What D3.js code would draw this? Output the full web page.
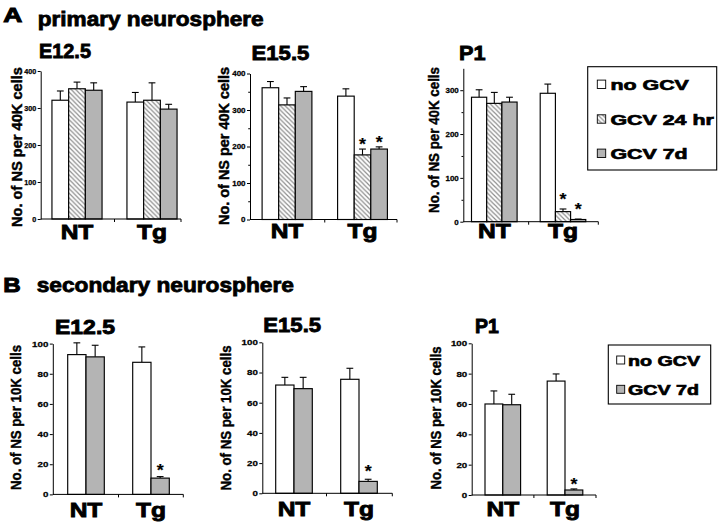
<!DOCTYPE html>
<html><head><meta charset="utf-8">
<script src="https://cdn.jsdelivr.net/npm/d3@7"></script>
<style>
body{margin:0;background:#fff}
svg{display:block}
text{font-family:"Liberation Sans",Arial,Helvetica,sans-serif;font-weight:bold;fill:#000}
</style>
</head><body>
<svg id="c" width="720" height="525"></svg>
<script>
// ---------------- data ----------------
const groups = ["NT", "Tg"];
const seriesA = ["no GCV", "GCV 24 hr", "GCV 7d"];
const seriesB = ["no GCV", "GCV 7d"];
const stages = ["E12.5", "E15.5", "P1"];
const sectionLetters = ["A", "B"];
const sectionTitles = ["primary neurosphere", "secondary neurosphere"];
const yTitleA = "No. of NS per 40K cells";
const yTitleB = "No. of NS per 10K cells";
const ticksA = [[0, 100, 200, 300, 400], [0, 100, 200, 300, 400], [0, 100, 200, 300]];
const minorA = [[], [50, 150, 250, 350], [50, 150, 250]];
const ticksB = [0, 20, 40, 60, 80, 100];

// primary neurospheres: [group][series] means and SEM
const primE125 = [[321, 352, 348], [316, 321, 297]];
const primE125Err = [[25, 18, 20], [26, 47, 13]];
const primE155 = [[361, 314, 351], [338, 177, 193]];
const primE155Err = [[17, 19, 13], [20, 16, 6]];
const primP1 = [[284, 270, 273], [293, 23, 5]];
const primP1Err = [[17, 25, 11], [21, 6, 1]];
// secondary neurospheres
const secE125 = [[92.7, 91.2], [87.6, 10.8]];
const secE125Err = [[7.8, 7.7], [10.2, 1.0]];
const secE155 = [[71.7, 69.3], [75.5, 7.9]];
const secE155Err = [[5.1, 7.5], [7.3, 1.4]];
const secP1 = [[60.0, 59.5], [75.1, 3.3]];
const secP1Err = [[8.6, 6.9], [4.7, 0.7]];
// significance markers: [group, series index]
const sigA = [[], [["Tg", 1], ["Tg", 2]], [["Tg", 1], ["Tg", 2]]];
const sigB = [[["Tg", 1]], [["Tg", 1]], [["Tg", 1]]];

// ---------------- layout ----------------
const layA = [
  {x0: 40.7, xEnd: 181, c: [77, 152], bw: 16.7, y0: 219, yTop: 71, max: 400, star: 10,
   title: [39, 58, 20.5, 0.97], ylab: [21.5, 147, 160], tick: [7.2, 1.0, 3], xl: [238.5, 21, 1.17]},
  {x0: 250, xEnd: 397, c: [287, 362.5], bw: 16.6, y0: 219.5, yTop: 73.5, max: 400, star: 8.5,
   title: [251.5, 60, 20.5, 1.08], ylab: [229, 146, 158], tick: [7.6, 1.05, 3], xl: [237.5, 21, 1.17]},
  {x0: 463.3, xEnd: 598.3, c: [494.3, 563], bw: 15.2, y0: 221.7, yTop: 68.3, max: 350, star: 13,
   title: [459, 60, 20.5, 1.06], ylab: [438.5, 140, 146], tick: [7.6, 1.05, 3], xl: [237.5, 20.5, 1.2]}
];
const layB = [
  {x0: 52.8, xEnd: 183.3, c: [86, 151], bw: 18.3, y0: 494.4, yTop: 343.6, max: 100, star: 10,
   title: [55, 334, 19.5, 1.18], ylab: [20.5, 417.5, 145], tick: [7.8, 1.25, 3], xl: [516.5, 21, 1.17]},
  {x0: 262.3, xEnd: 392.3, c: [294, 359], bw: 18.3, y0: 493.3, yTop: 342.3, max: 100, star: 11,
   title: [263.3, 331.7, 20.5, 1.08], ylab: [231, 418, 145], tick: [7.8, 1.25, 3], xl: [515.5, 21, 1.17]},
  {x0: 471.7, xEnd: 596, c: [502.8, 565], bw: 17.8, y0: 495, yTop: 343.3, max: 100, star: 8.5,
   title: [475, 333.3, 19.5, 1.0], ylab: [441, 418, 143], tick: [7.8, 1.25, 3], xl: [516, 21, 1.17]}
];
const GRAY = "#b4b4b4";
const fillsA = ["#ffffff", "url(#hatch)", GRAY];
const fillsB = ["#ffffff", GRAY];

const svg = d3.select("#c");
const defs = svg.append("defs");
const pat = defs.append("pattern").attr("id", "hatch").attr("patternUnits", "userSpaceOnUse")
  .attr("width", 4.6).attr("height", 4.6);
pat.append("rect").attr("width", 4.6).attr("height", 4.6).attr("fill", "#fff");
pat.append("path").attr("d", "M-1,-1L5.6,5.6M-1,3.6L1,5.6M3.6,-1L5.6,1")
  .attr("stroke", "#8c8c8c").attr("stroke-width", 1.15);

function txt(g, x, y, s, size, stretch, anchor, heavy) {
  return g.append("text")
    .attr("transform", `translate(${x},${y}) scale(${stretch},1)`)
    .attr("text-anchor", anchor || "start")
    .attr("font-size", size)
    .attr("stroke", "#000")
    .attr("stroke-width", heavy === undefined ? 0.55 : heavy)
    .text(s);
}

function panel(cfg, means, errs, series, fills, ticks, minor, yTitle, stage, sig) {
  const g = svg.append("g");
  const y = d3.scaleLinear().domain([0, cfg.max]).range([cfg.y0, cfg.yTop]);
  const x = d3.scalePoint().domain(groups).range(cfg.c);
  const n = series.length;
  const cxOf = (gr, si) => x(gr) + (si - (n - 1) / 2) * cfg.bw;

  const recs = [];
  groups.forEach((gr, gi) => series.forEach((s, si) => {
    recs.push({gr, si, v: means[gi][si], e: errs[gi][si], cx: cxOf(gr, si)});
  }));

  // error bars
  g.selectAll(".eb").data(recs).join("line")
    .attr("x1", d => d.cx).attr("x2", d => d.cx)
    .attr("y1", d => y(d.v)).attr("y2", d => y(d.v + d.e))
    .attr("stroke", "#000").attr("stroke-width", 1.1);
  g.selectAll(".cap").data(recs).join("line")
    .attr("x1", d => d.cx - 3.4).attr("x2", d => d.cx + 3.4)
    .attr("y1", d => y(d.v + d.e)).attr("y2", d => y(d.v + d.e))
    .attr("stroke", "#000").attr("stroke-width", 1.1);
  // bars
  g.selectAll(".bar").data(recs).join("rect")
    .attr("x", d => d.cx - cfg.bw / 2).attr("y", d => y(d.v))
    .attr("width", cfg.bw).attr("height", d => y(0) - y(d.v))
    .attr("fill", d => fills[d.si]).attr("stroke", "#000").attr("stroke-width", 1.15);

  // y axis
  const ya = g.append("g").attr("transform", `translate(${cfg.x0},0)`)
    .call(d3.axisLeft(y).tickValues(ticks).tickSize(cfg.tick[2]).tickSizeOuter(0));
  ya.attr("font-family", null).attr("font-size", null);
  ya.select(".domain").attr("stroke", "#000").attr("stroke-width", 1);
  ya.selectAll(".tick line").attr("stroke", "#000");
  ya.selectAll(".tick text")
    .attr("font-size", cfg.tick[0])
    .attr("stroke", "#000").attr("stroke-width", 0.25)
    .attr("x", -(cfg.tick[2] + 1.5) / cfg.tick[1])
    .attr("transform", `scale(${cfg.tick[1]},1)`);
  if (minor.length) {
    const ym = g.append("g").attr("transform", `translate(${cfg.x0},0)`)
      .call(d3.axisLeft(y).tickValues(minor).tickSize(1.8).tickSizeOuter(0).tickFormat(""));
    ym.select(".domain").remove();
    ym.selectAll(".tick line").attr("stroke", "#000");
  }
  // x axis
  const mid = (x(groups[0]) + x(groups[1])) / 2;
  g.append("line").attr("x1", cfg.x0).attr("x2", cfg.xEnd).attr("y1", cfg.y0).attr("y2", cfg.y0)
    .attr("stroke", "#000").attr("stroke-width", 1);
  [mid, cfg.xEnd].forEach(t => g.append("line").attr("x1", t).attr("x2", t)
    .attr("y1", cfg.y0).attr("y2", cfg.y0 + 3).attr("stroke", "#000"));
  groups.forEach(gr => txt(g, x(gr), cfg.xl[0], gr, cfg.xl[1], cfg.xl[2], "middle", 0.9));

  // titles
  txt(g, cfg.title[0], cfg.title[1], stage, cfg.title[2], cfg.title[3], "start", 0.85);
  g.append("text")
    .attr("transform", `translate(${cfg.ylab[0]},${cfg.ylab[1]}) rotate(-90)`)
    .attr("text-anchor", "middle").attr("font-size", 14.5)
    .attr("stroke", "#000").attr("stroke-width", 0.45)
    .attr("textLength", cfg.ylab[2]).attr("lengthAdjust", "spacingAndGlyphs")
    .text(yTitle);

  // significance
  sig.forEach(([gr, si]) => {
    const gi = groups.indexOf(gr);
    const top = y(means[gi][si] + errs[gi][si]);
    txt(g, cxOf(gr, si), top - cfg.star + 9.2, "*", 17, 1.05, "middle", 0.2)
      .attr("fill", "#222");
  });
}

// section headers
txt(svg, 3.3, 22, sectionLetters[0], 20, 1.32, "start", 1.0);
txt(svg, 37.7, 25.5, sectionTitles[0], 20, 1.13, "start", 0.8);
txt(svg, 3.3, 291.7, sectionLetters[1], 21, 1.15, "start", 1.0);
txt(svg, 36.7, 291.7, sectionTitles[1], 20, 1.135, "start", 0.8);

const primM = [primE125, primE155, primP1];
const primE = [primE125Err, primE155Err, primP1Err];
const secM = [secE125, secE155, secP1];
const secE = [secE125Err, secE155Err, secP1Err];
layA.forEach((cfg, i) => panel(cfg, primM[i], primE[i], seriesA, fillsA, ticksA[i], minorA[i], yTitleA, stages[i], sigA[i]));
layB.forEach((cfg, i) => panel(cfg, secM[i], secE[i], seriesB, fillsB, ticksB, [], yTitleB, stages[i], sigB[i]));

// legends
function legend(box, items, fills, rowsY, sq, textX, size, stretch) {
  const g = svg.append("g");
  g.append("rect").attr("x", box[0]).attr("y", box[1]).attr("width", box[2]).attr("height", box[3])
    .attr("fill", "#fff").attr("stroke", "#000").attr("stroke-width", 1.1);
  items.forEach((s, i) => {
    g.append("rect").attr("x", sq[0]).attr("y", rowsY[i] - sq[1] / 2).attr("width", sq[1]).attr("height", sq[1])
      .attr("fill", fills[i]).attr("stroke", "#000").attr("stroke-width", 0.9);
    txt(g, textX, rowsY[i] + size * 0.37, s, size, stretch, "start", 0.7);
  });
}
legend([587.7, 66.7, 129, 103.3], seriesA, fillsA, [84.3, 119, 153.3], [597.3, 8.4], 610.5, 15.5, 1.38);
legend([608.3, 345, 102.4, 59], seriesB, fillsB, [360, 389.3], [616.7, 8], 628, 15.5, 1.27);
</script>
</body></html>
